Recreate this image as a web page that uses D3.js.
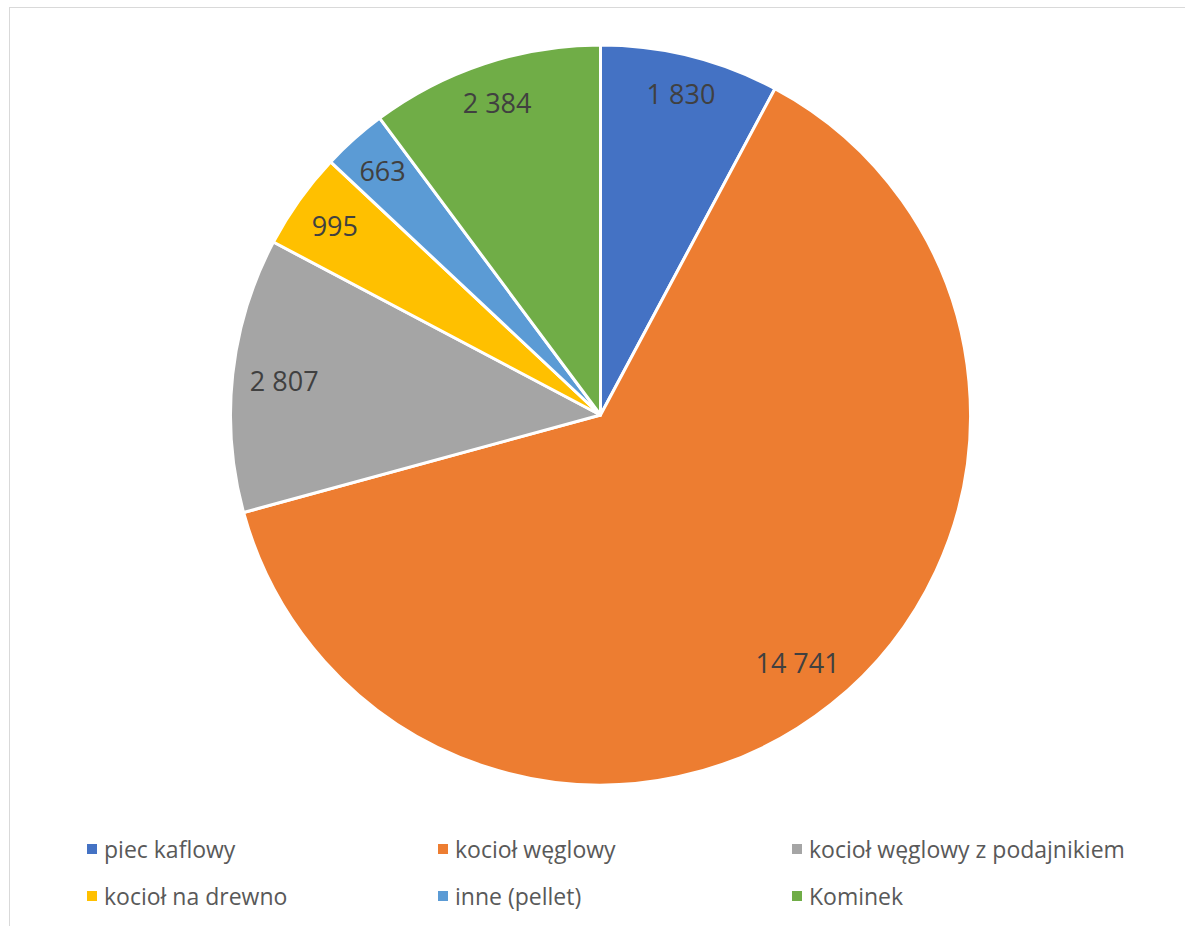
<!DOCTYPE html>
<html>
<head>
<meta charset="utf-8">
<script src="https://cdn.jsdelivr.net/npm/d3@7"></script>
<style>
  body { margin: 0; background: #fff; }
  svg { display: block; font-family: "Open Sans", sans-serif; }
</style>
</head>
<body>
<div id="chart"></div>
<script>
var categories = ["piec kaflowy", "kocioł węglowy", "kocioł węglowy z podajnikiem", "kocioł na drewno", "inne (pellet)", "Kominek"];
var values = [1830, 14741, 2807, 995, 663, 2384];
var colors = ["#4472C4", "#ED7D31", "#A5A5A5", "#FFC000", "#5B9BD5", "#70AD47"];

var width = 1185;
var height = 926;
var radius = 370;
var cx = 600.5, cy = 415;

var svg = d3.select("#chart")
	.append("svg")
	.attr("width", width)
	.attr("height", height);

// chart area border (cropped at right/bottom)
svg.append("rect")
	.attr("x", 9.5)
	.attr("y", 7.5)
	.attr("width", width + 10)
	.attr("height", height + 10)
	.attr("fill", "none")
	.attr("stroke", "#d9d9d9")
	.attr("stroke-width", 1);

var data = categories.map((c, i) => ({ name: c, value: values[i], color: colors[i] }));

var pie = d3.pie()
	.value(d => d.value)
	.sort(null);

var arc = d3.arc()
	.innerRadius(0)
	.outerRadius(radius);

var g = svg.append("g")
	.attr("transform", `translate(${cx}, ${cy})`);

var arcs = pie(data);

g.selectAll("path")
	.data(arcs)
	.enter()
	.append("path")
	.attr("d", arc)
	.attr("fill", d => d.data.color)
	.attr("stroke", "#fff")
	.attr("stroke-width", 3)
	.attr("stroke-linejoin", "round");

// labels placed "inside end" like Excel: box pushed against an inner ring
var fmt = v => d3.format(",")(v).replace(/,/g, " ");
var edge = 354;

g.selectAll("text.lbl")
	.data(arcs)
	.enter()
	.append("text")
	.attr("class", "lbl")
	.attr("text-anchor", "middle")
	.attr("dominant-baseline", "central")
	.attr("font-size", "27px")
	.attr("fill", "#404040")
	.text(d => fmt(d.data.value))
	.each(function (d) {
		var bb = this.getBBox();
		var a = (d.startAngle + d.endAngle) / 2;
		var sx = Math.sin(a), sy = -Math.cos(a);
		var proj = Math.abs(sx) * bb.width / 2 + Math.abs(sy) * 30 / 2;
		var r = edge - proj;
		d3.select(this)
			.attr("x", sx * r)
			.attr("y", sy * r);
	});

// legend
var legend = svg.append("g");
var colX = [87, 438, 792];
var rowY = [849, 896];

var items = legend.selectAll("g")
	.data(data)
	.enter()
	.append("g")
	.attr("transform", (d, i) => `translate(${colX[i % 3]}, ${rowY[Math.floor(i / 3)]})`);

items.append("rect")
	.attr("x", 0)
	.attr("y", -5)
	.attr("width", 10)
	.attr("height", 10)
	.attr("fill", d => d.color);

items.append("text")
	.attr("x", 17)
	.attr("y", 0)
	.attr("dominant-baseline", "central")
	.attr("font-size", "23px")
	.attr("fill", "#595959")
	.text(d => d.name);
</script>
</body>
</html>
